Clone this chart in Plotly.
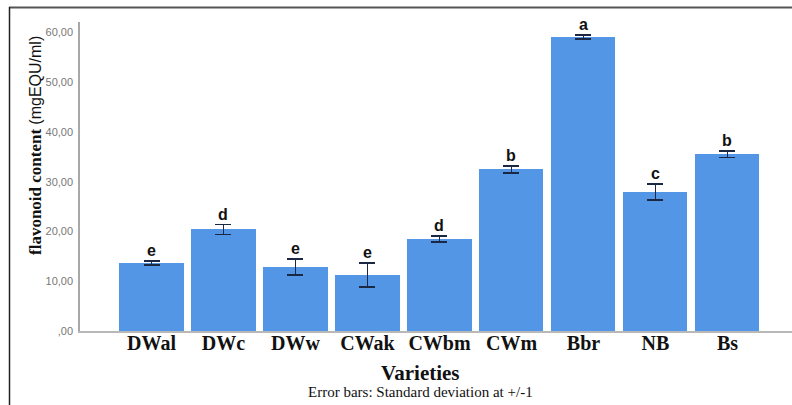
import plotly.graph_objects as go

# Flavonoid content per variety (mean and standard deviation), with group letters
varieties = ["DWal", "DWc", "DWw", "CWak", "CWbm", "CWm", "Bbr", "NB", "Bs"]
means = [13.6, 20.4, 12.85, 11.2, 18.5, 32.5, 59.1, 27.95, 35.5]
std_devs = [0.4, 1.0, 1.6, 2.4, 0.55, 0.7, 0.45, 1.55, 0.65]
group_letters = ["e", "d", "e", "e", "d", "b", "a", "c", "b"]

y_tick_values = [0, 10, 20, 30, 40, 50, 60]
y_tick_labels = [",00", "10,00", "20,00", "30,00", "40,00", "50,00", "60,00"]

W, H = 792, 405
ML, MR, MT, MB = 80, 0, 22, 74
PW, PH = W - ML - MR, H - MT - MB


def px_x(p):
    return (p - ML) / PW


def px_y(p):
    return (H - MB - p) / PH


fig = go.Figure()
fig.add_trace(go.Bar(
    x=list(range(len(varieties))),
    y=means,
    width=0.889,
    marker=dict(color="#5396E6", line=dict(width=0)),
    error_y=dict(type="data", array=std_devs, visible=True,
                 color="#1a2844", thickness=1.8, width=8),
    hoverinfo="skip",
))

annotations = []
for i, (m, s, g) in enumerate(zip(means, std_devs, group_letters)):
    annotations.append(dict(
        x=i, y=m + s, xref="x", yref="y", text=f"<b>{g}</b>", showarrow=False,
        yanchor="bottom", yshift=0,
        font=dict(family="Liberation Sans, Arial", size=16, color="#111111"),
    ))

# axis titles and footnote
annotations.append(dict(
    x=px_x(35), y=px_y(146), xref="paper", yref="paper", textangle=-90,
    showarrow=False, xanchor="center", yanchor="middle",
    text="<b>flavonoid content</b> <span style=\"font-family:Liberation Sans, Arial;font-size:16px\">(mgEQU/ml)</span>",
    font=dict(family="Liberation Serif, Times New Roman", size=17, color="#111111"),
))
annotations.append(dict(
    x=px_x(420), y=px_y(373), xref="paper", yref="paper", showarrow=False,
    xanchor="center", yanchor="middle", text="<b>Varieties</b>",
    font=dict(family="Liberation Serif, Times New Roman", size=21, color="#111111"),
))
annotations.append(dict(
    x=px_x(420), y=px_y(392), xref="paper", yref="paper", showarrow=False,
    xanchor="center", yanchor="middle",
    text="Error bars: Standard deviation at +/-1",
    font=dict(family="Liberation Serif, Times New Roman", size=15, color="#111111"),
))

shapes = [
    # outer frame: top and left edges
    dict(type="line", xref="paper", yref="paper",
         x0=px_x(9), x1=px_x(792), y0=px_y(7.5), y1=px_y(7.5),
         line=dict(color="#555555", width=2)),
    dict(type="line", xref="paper", yref="paper",
         x0=px_x(9.5), x1=px_x(9.5), y0=px_y(7), y1=px_y(405),
         line=dict(color="#222222", width=1.5)),
]

fig.update_layout(
    width=W, height=H,
    margin=dict(l=ML, r=MR, t=MT, b=MB),
    paper_bgcolor="white", plot_bgcolor="white",
    showlegend=False,
    bargap=0,
    annotations=annotations,
    shapes=shapes,
    xaxis=dict(
        range=[-0.993, 8.896],
        tickmode="array", tickvals=list(range(len(varieties))),
        ticktext=[f"<b>{v}</b>" for v in varieties],
        tickfont=dict(family="Liberation Serif, Times New Roman", size=20, color="#111111"),
        showgrid=False, zeroline=False,
        showline=True, linecolor="#b8b8b8", linewidth=1.5,
        ticks="", ticklabelstandoff=-7,
    ),
    yaxis=dict(
        range=[0, 62.1],
        tickmode="array", tickvals=y_tick_values, ticktext=y_tick_labels,
        tickfont=dict(family="Liberation Sans, Arial", size=11, color="#777777"),
        showgrid=False, zeroline=False,
        showline=True, linecolor="#a8a8a8", linewidth=1.5,
        ticks="", ticklabelstandoff=3,
    ),
)

fig.write_html("out.html")
